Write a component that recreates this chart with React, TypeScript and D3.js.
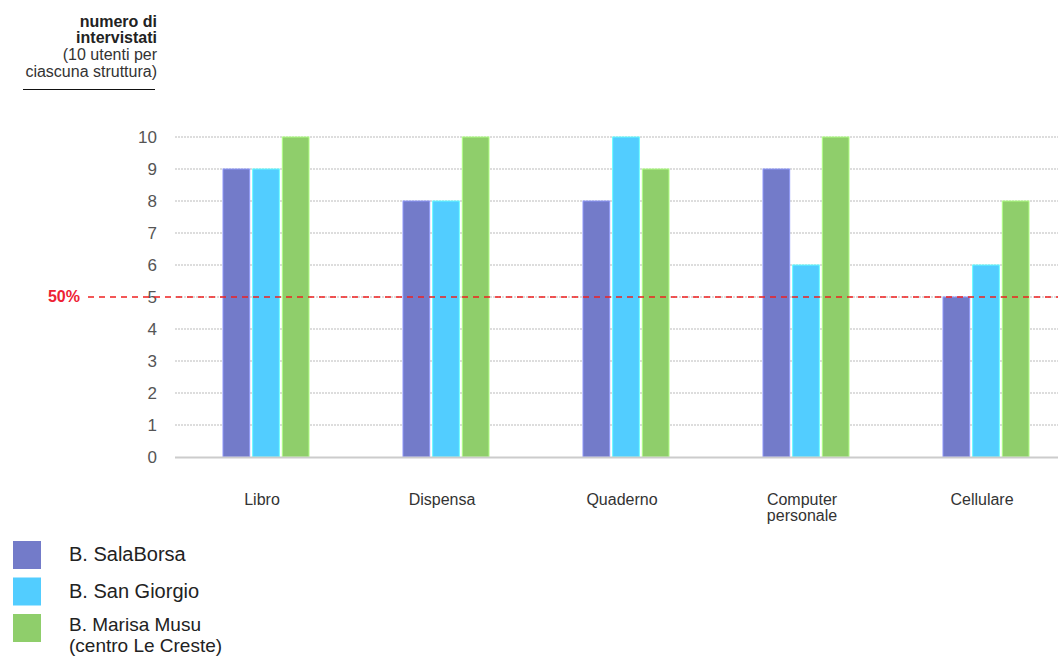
import React from "react";
import * as d3 from "d3";

const categories = ["Libro", "Dispensa", "Quaderno", "Computer personale", "Cellulare"];
const series = ["B. SalaBorsa", "B. San Giorgio", "B. Marisa Musu (centro Le Creste)"];
const salaBorsa = [9, 8, 8, 9, 5];
const sanGiorgio = [9, 8, 10, 6, 6];
const marisaMusu = [10, 10, 9, 10, 8];
const yTicks = [0, 1, 2, 3, 4, 5, 6, 7, 8, 9, 10];
const threshold = 5;
const thresholdLabel = "50%";
const colors = ["#737bc9", "#52cdff", "#8fce6b"];
const legendLines = [["B. SalaBorsa"], ["B. San Giorgio"], ["B. Marisa Musu", "(centro Le Creste)"]];
const catLines: Record<string, string[]> = { "Computer personale": ["Computer", "personale"] };

export default function App() {
  const W = 1058, H = 656;
  const left = 175, right = 1075;
  const y = d3.scaleLinear().domain([0, 10]).range([457, 137]);
  const x0 = d3.scaleBand().domain(categories).range([left, right]).paddingInner(0).paddingOuter(0);
  const x1 = d3.scaleBand().domain(series.map((_, i) => String(i))).range([0, 86]).paddingInner(0.1);
  const groupOffset = 48;
  const values = [salaBorsa, sanGiorgio, marisaMusu];
  const font = "'Liberation Sans', Arial, Helvetica, sans-serif";

  return (
    <svg width={W} height={H} style={{ position: "absolute", left: 0, top: 0, fontFamily: font }}>
      <rect width={W} height={H} fill="#fff" />
      {/* title */}
      <g fontSize={16} textAnchor="end">
        <text x={157} y={27} fontWeight="bold" fill="#222">numero di</text>
        <text x={157} y={43} fontWeight="bold" fill="#222">intervistati</text>
        <text x={157} y={60} fill="#333">(10 utenti per</text>
        <text x={157} y={77} fill="#333">ciascuna struttura)</text>
        <line x1={23} x2={155} y1={89.5} y2={89.5} stroke="#111" strokeWidth={1} />
      </g>
      {/* grid */}
      {yTicks.map((t) => (
        <g key={t}>
          {t > 0 && (
            <line x1={left} x2={W} y1={y(t)} y2={y(t)} stroke="#bbb" strokeWidth={1} strokeDasharray="2,1" />
          )}
          <text x={157} y={y(t) + 6} textAnchor="end" fontSize={17} fill="#555">{t}</text>
        </g>
      ))}
      {/* bars */}
      {categories.map((c, ci) => (
        <g key={c} transform={`translate(${(x0(c) as number) + groupOffset},0)`}>
          {values.map((vals, si) => (
            <rect
              key={si}
              x={x1(String(si))}
              y={y(vals[ci])}
              width={x1.bandwidth()}
              height={y(0) - y(vals[ci])}
              fill={colors[si]}
              stroke={d3.color(colors[si])!.brighter(0.6).formatHex()}
              strokeWidth={1}
            />
          ))}
        </g>
      ))}
      {/* baseline */}
      <line x1={left} x2={W} y1={y(0) + 0.5} y2={y(0) + 0.5} stroke="#ccc" strokeWidth={2} />
      {/* threshold */}
      <line x1={88} x2={W} y1={y(threshold)} y2={y(threshold)} stroke="#f02020" strokeWidth={1.5} strokeDasharray="6,5" />
      <text x={80} y={y(threshold) + 5} textAnchor="end" fontSize={16} fontWeight="bold" fill="#ee2233">{thresholdLabel}</text>
      {/* category labels */}
      {categories.map((c) => {
        const lines = catLines[c] || [c];
        const cx = (x0(c) as number) + x0.bandwidth() / 2 - 3;
        return (
          <text key={c} x={cx} y={505} textAnchor="middle" fontSize={16} fill="#333">
            {lines.map((l, i) => (
              <tspan key={i} x={cx} dy={i === 0 ? 0 : 16}>{l}</tspan>
            ))}
          </text>
        );
      })}
      {/* legend */}
      {legendLines.map((lines, i) => (
        <g key={i} transform={`translate(13,${541 + i * 36.5})`}>
          <rect width={28} height={28} fill={colors[i]} />
          {lines.map((l, j) => (
            <text key={j} x={56} y={(i === 2 ? 17 : 20) + j * 21} fontSize={i === 2 ? 19 : 20} fill="#222">{l}</text>
          ))}
        </g>
      ))}
    </svg>
  );
}
